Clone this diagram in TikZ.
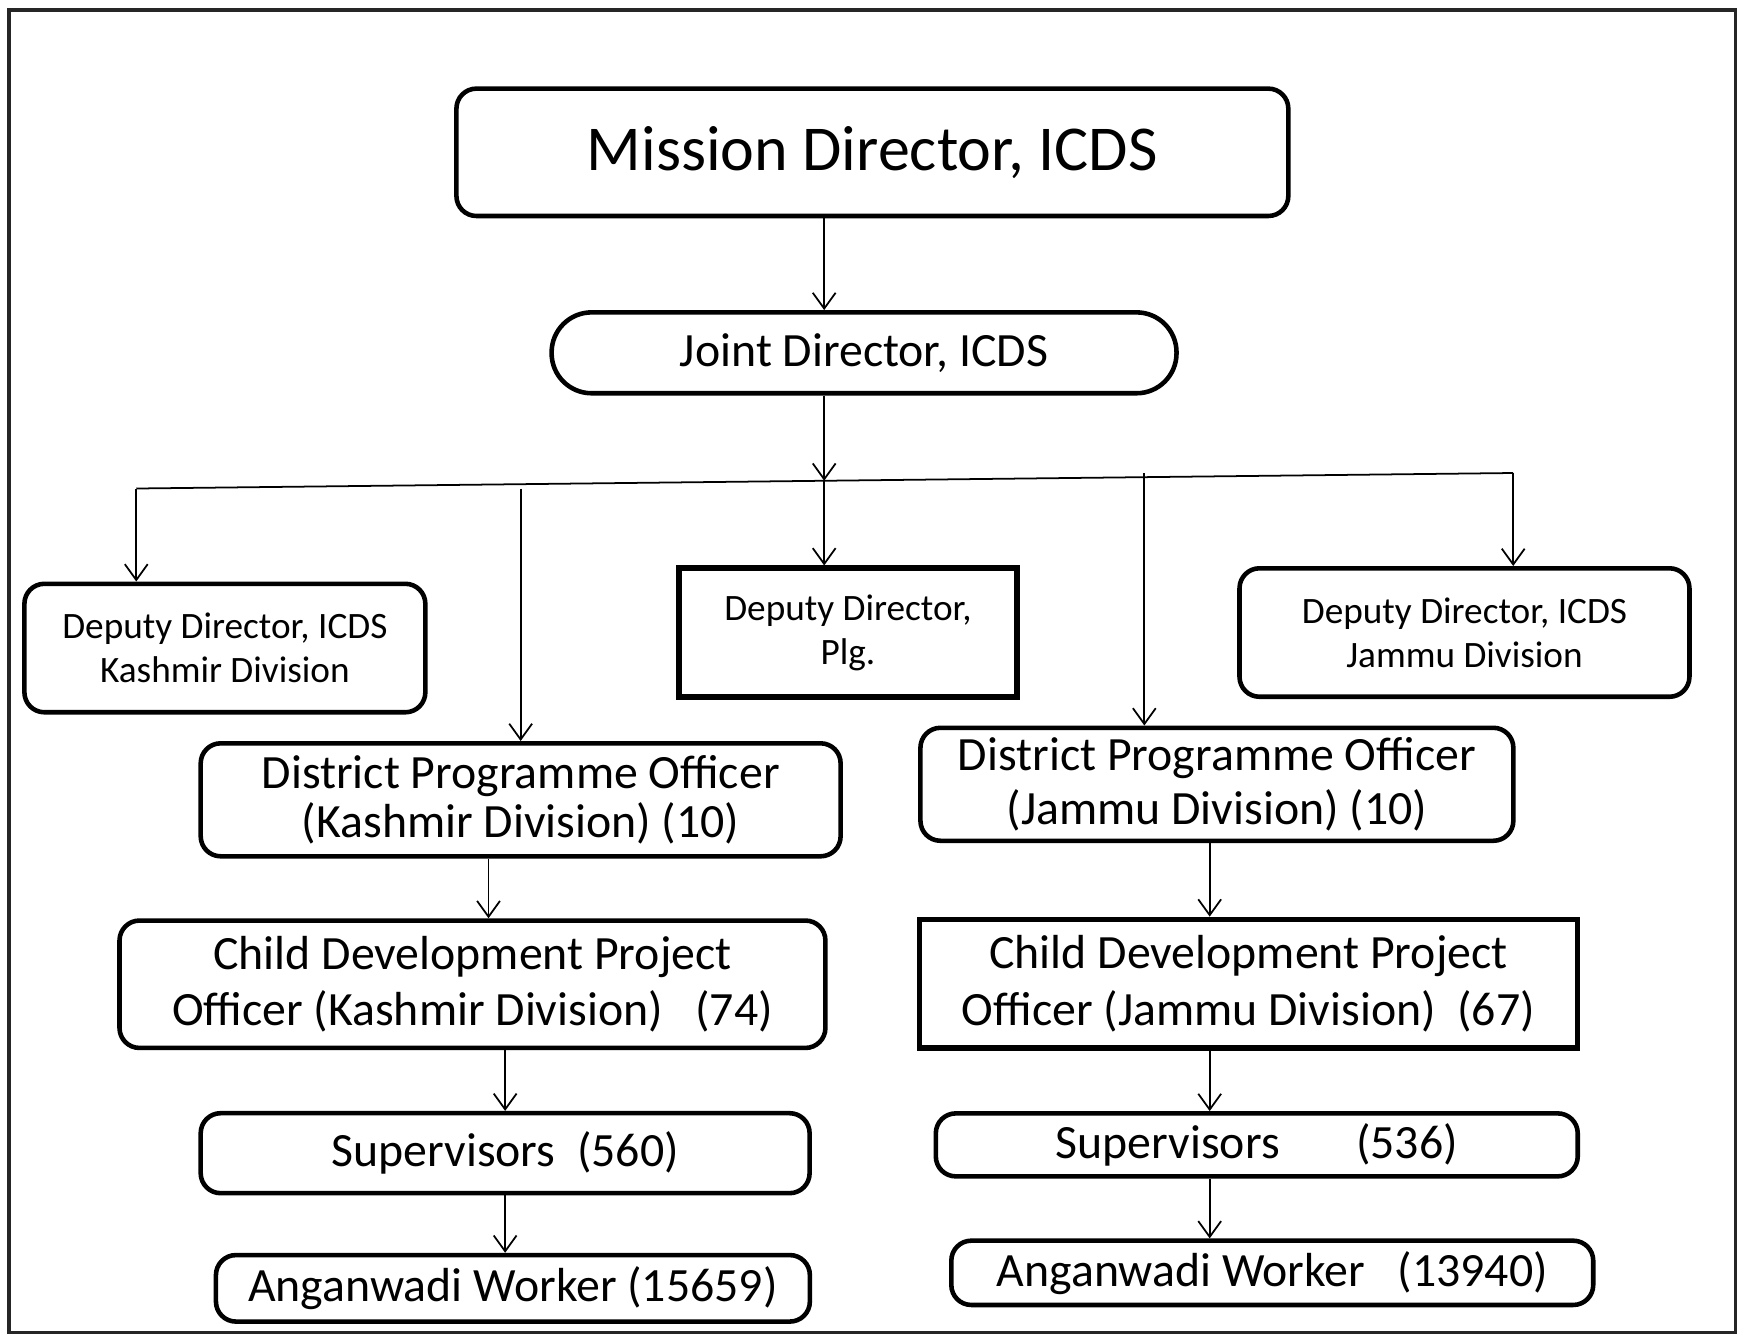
\documentclass[tikz,border=0pt]{standalone}
\usepackage{fontspec}
\setmainfont{Carlito}
\usepackage{tikz}
\usetikzlibrary{calc,positioning,arrows.meta,shapes}

\begin{document}
\begin{tikzpicture}[x=0.1108mm, y=-0.1108mm]
\tikzstyle{box}=[draw, rounded corners=2mm, line width=1.3pt, align=center,
                        inner sep=0pt, font=\fontsize{13.6}{15}\selectfont]
\tikzstyle{sqbox}=[box, sharp corners, line width=1.6pt]
\tikzstyle{small}=[font=\fontsize{10.6}{12.6}\selectfont]
\tikzstyle{arr}=[-{Straight Barb[length=4.5pt,width=6.5pt]}, line width=0.5pt]
\useasboundingbox (0,0) rectangle (1568,1205);
\draw[line width=1pt, black!85] (8,9) rectangle (1567,1203);
% top
\node[box, minimum width=8.32cm, minimum height=1.274cm, font=\fontsize{18.2}{22}\selectfont] (MD) at (787.5,137.5) {Mission Director, ICDS};
\node[box, rounded corners=4mm, minimum width=6.25cm, minimum height=0.809cm] (JD) at (780,318.5) {Joint Director, ICDS};
% deputy directors
\node[box, small, minimum width=4.01cm, minimum height=1.285cm] (DDK) at (203,585) {Deputy Director, ICDS\\Kashmir Division};
\node[sqbox, small, minimum width=3.38cm, minimum height=1.285cm] (DDP) at (765.5,571) {Deputy Director,\\Plg.};
\node[box, small, minimum width=4.50cm, minimum height=1.285cm] (DDJ) at (1322,571) {Deputy Director, ICDS\\Jammu Division};
% kashmir side
\node[box, minimum width=6.40cm, minimum height=1.13cm, font=\fontsize{13.6}{13.8}\selectfont] (DPOK) at (470,722) {District Programme Officer\\(Kashmir Division) (10)};
\node[box, minimum width=7.06cm, minimum height=1.274cm, font=\fontsize{13.6}{16}\selectfont] (CDPOK) at (426.5,888.5) {Child Development Project\\Officer (Kashmir Division)\ \ \ (74)};
\node[box, minimum width=6.09cm, minimum height=0.80cm] (SUPK) at (456,1041) {Supervisors\ \ (560)};
\node[box, minimum width=5.94cm, minimum height=0.665cm] (AWK) at (463,1163) {Anganwadi Worker (15659)};
% jammu side
\node[box, minimum width=5.93cm, minimum height=1.13cm, font=\fontsize{13.6}{15.1}\selectfont] (DPOJ) at (1098.5,708) {District Programme Officer\\(Jammu Division) (10)};
\node[sqbox, minimum width=6.58cm, minimum height=1.285cm, font=\fontsize{13.6}{16}\selectfont] (CDPOJ) at (1127,888) {Child Development Project\\Officer (Jammu Division)\ \ (67)};
\node[box, minimum width=6.42cm, minimum height=0.63cm] (SUPJ) at (1134.5,1033.5) {Supervisors\hspace{1.6em}(536)};
\node[box, minimum width=6.42cm, minimum height=0.643cm] (AWJ) at (1148.5,1149) {Anganwadi Worker\ \ \ (13940)};
% connectors
\coordinate (barL) at (123,441);
\coordinate (barR) at (1366,427);
\coordinate (barM) at (744,434);
\coordinate (dk) at (470,441);
\coordinate (dj) at (1033,427);
\coordinate (lk1) at (441,0);
\coordinate (lk2) at (456,0);
\coordinate (lj) at (1092,0);
\draw[line width=0.5pt] (barL) -- (barR);
\draw[arr] (MD.south -| barM) -- (JD.north -| barM);
\draw[arr] (JD.south -| barM) -- (barM);
\draw[arr] (barM) -- (DDP.north -| barM);
\draw[arr] (barL) -- (DDK.north -| barL);
\draw[arr] (barR) -- (DDJ.north -| barR);
\draw[arr] (dk) -- (DPOK.north -| dk);
\draw[arr] (dj) -- (DPOJ.north -| dj);
\foreach \a/\b/\l in {DPOK/CDPOK/lk1, CDPOK/SUPK/lk2, SUPK/AWK/lk2, DPOJ/CDPOJ/lj, CDPOJ/SUPJ/lj, SUPJ/AWJ/lj}{\draw[arr] (\a.south -| \l) -- (\b.north -| \l);}
\end{tikzpicture}
\end{document}
